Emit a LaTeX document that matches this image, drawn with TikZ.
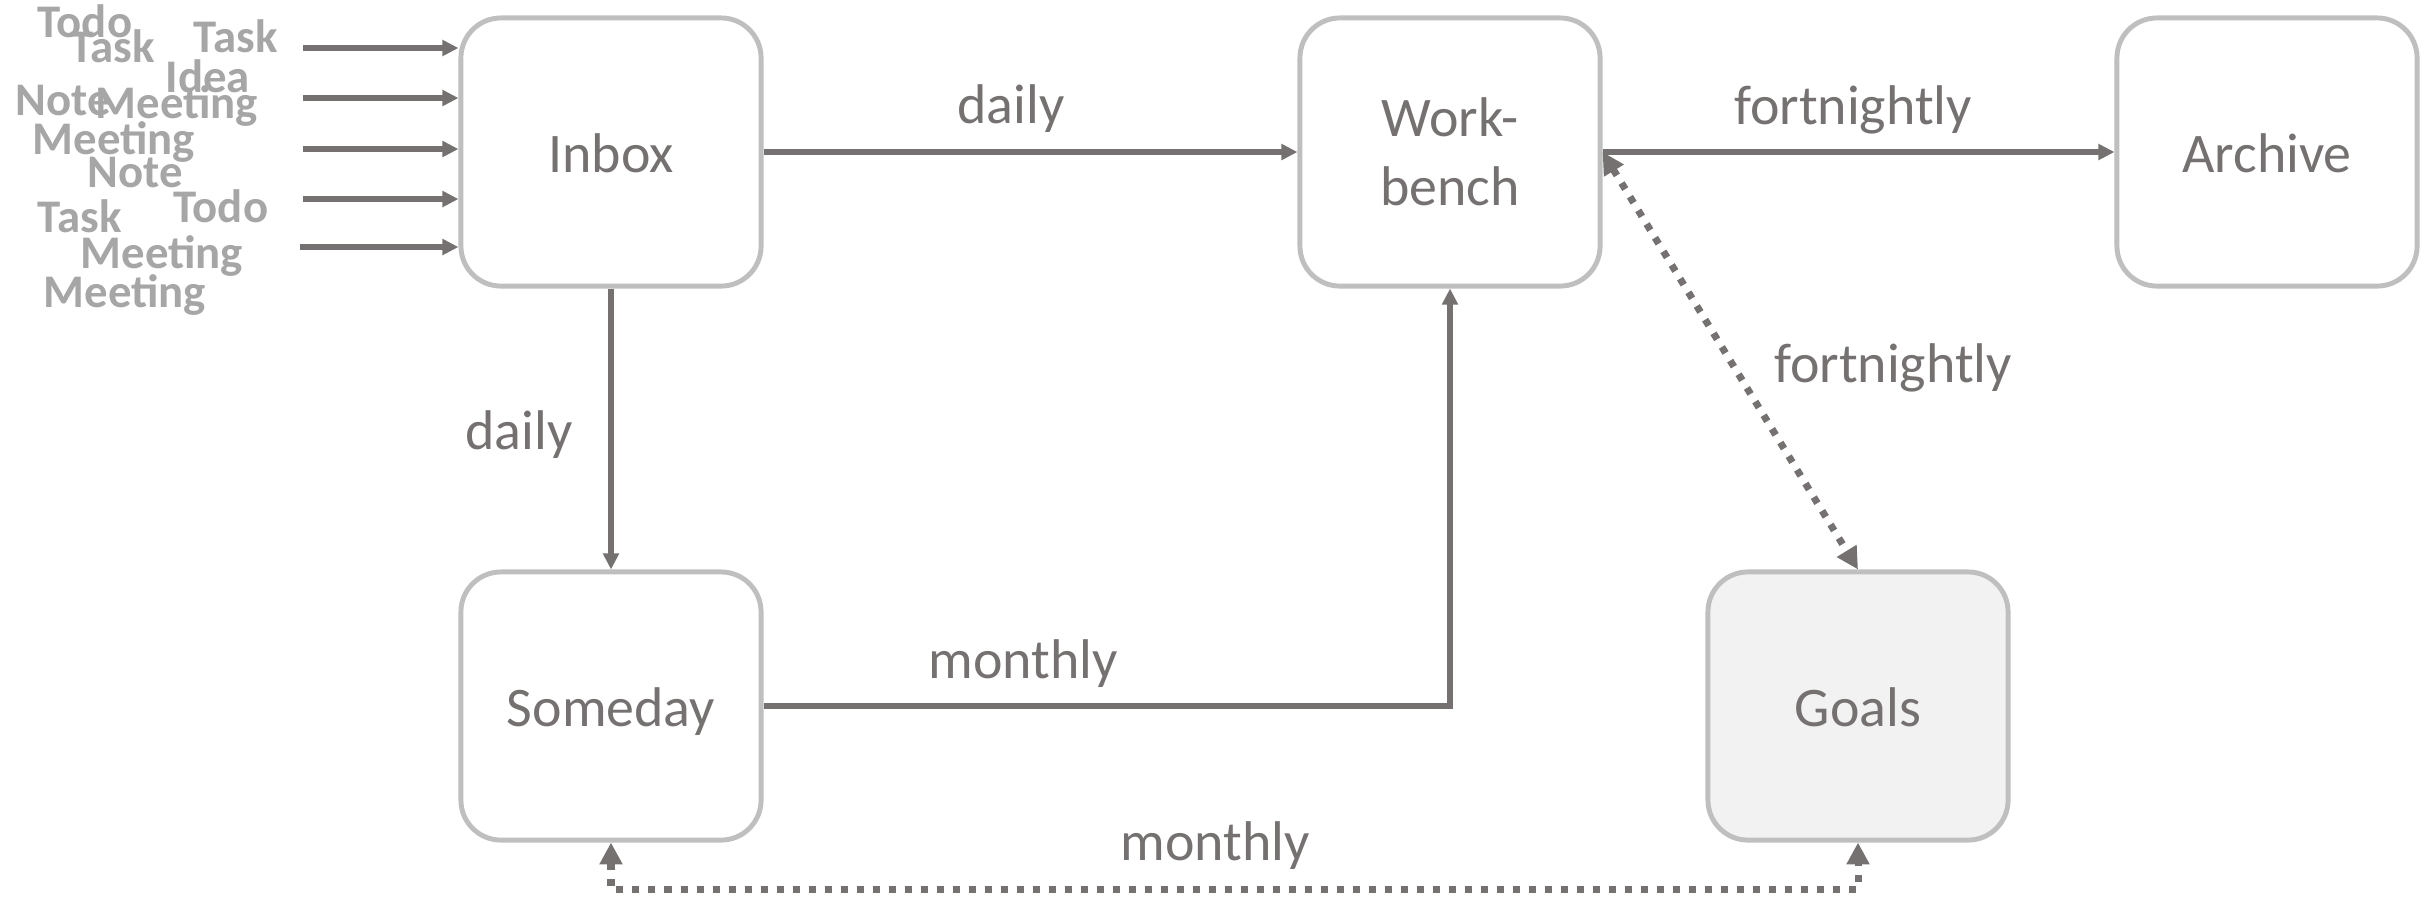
\documentclass[tikz,border=0pt]{standalone}
\usepackage{fontspec}
\setmainfont{Carlito}
\usetikzlibrary{arrows.meta}
\definecolor{linegray}{HTML}{767171}
\definecolor{boxgray}{HTML}{BFBFBF}
\definecolor{wordgray}{HTML}{A6A6A6}
\definecolor{goalfill}{HTML}{F2F2F2}
\begin{document}
\begin{tikzpicture}[x=0.01cm,y=-0.01cm,
  box/.style={draw=boxgray, line width=1.4pt, rounded corners=0.4cm, fill=white,
    minimum width=3.0cm, minimum height=2.68cm, inner sep=0pt, align=center,
    text=linegray, font=\fontsize{15.9}{19.6}\selectfont},
  onebox/.style={box, text height=15.9pt, text depth=4pt},
  conn/.style={draw=linegray, line width=1.45pt, -{Triangle[length=4.6pt,width=4.4pt]}},
  dotlink/.style={draw=linegray, line width=2pt, dash pattern=on 0.07cm off 0.09cm,
    {Triangle[length=6.2pt,width=6.2pt]}-{Triangle[length=6.2pt,width=6.2pt]}},
  lbl/.style={text=linegray, font=\fontsize{15.9}{19.6}\selectfont, anchor=base, inner sep=0pt},
  word/.style={text=wordgray, font=\fontsize{13.3}{16}\selectfont\bfseries, anchor=base west, inner sep=0pt}]
\useasboundingbox[fill=white] (0,0) rectangle (2433,902);

% incoming items
\node[word] (w1)  at (37,37)  {Todo};
\node[word] (w2)  at (70,62)  {Task};
\node[word] (w3)  at (193,52) {Task};
\node[word] (w4)  at (165,92) {Idea};
\node[word] (w5)  at (15,115) {Note};
\node[word] (w6)  at (95,118) {Meeting};
\node[word] (w7)  at (32,154) {Meeting};
\node[word] (w8)  at (87,187) {Note};
\node[word] (w9)  at (173,222) {Todo};
\node[word] (w10) at (37,232) {Task};
\node[word] (w11) at (80,268) {Meeting};
\node[word] (w12) at (43,307) {Meeting};

% stations
\node[onebox] (inbox) at (611,152) {Inbox};
\node[box] (wb) at (1450,152) {Work-\\bench};
\node[onebox] (arch) at (2267,152) {Archive};
\node[onebox] (someday) at (611,706) {Someday};
\node[onebox, fill=goalfill] (goals) at (1858,706) {Goals};

% feeds into the inbox
\coordinate (f1) at (303,48);
\coordinate (f2) at (303,98);
\coordinate (f3) at (303,149);
\coordinate (f4) at (303,199);
\coordinate (f5) at (300,247);
\foreach \f in {f1,f2,f3,f4,f5}
  \draw[conn] (\f) -- (\f -| inbox.west);

% reviews
\draw[conn] (inbox.east) -- (wb.west);
\node[lbl] (l1) at (1011,123) {daily};
\draw[conn] (wb.east) -- (arch.west);
\node[lbl] (l2) at (1853,124) {fortnightly};
\draw[conn] (inbox.south) -- (someday.north);
\node[lbl] (l3) at (519,449) {daily};
\draw[conn] (someday.east) -| (wb.south);
\node[lbl] (l4) at (1023,678) {monthly};
\draw[dotlink] (wb.east) -- (goals.north);
\node[lbl] (l5) at (1893,382) {fortnightly};
\draw[dotlink] (someday.south) -- ++(0,47) -| (goals.south);
\node[lbl] (l6) at (1215,860) {monthly};
\end{tikzpicture}
\end{document}
